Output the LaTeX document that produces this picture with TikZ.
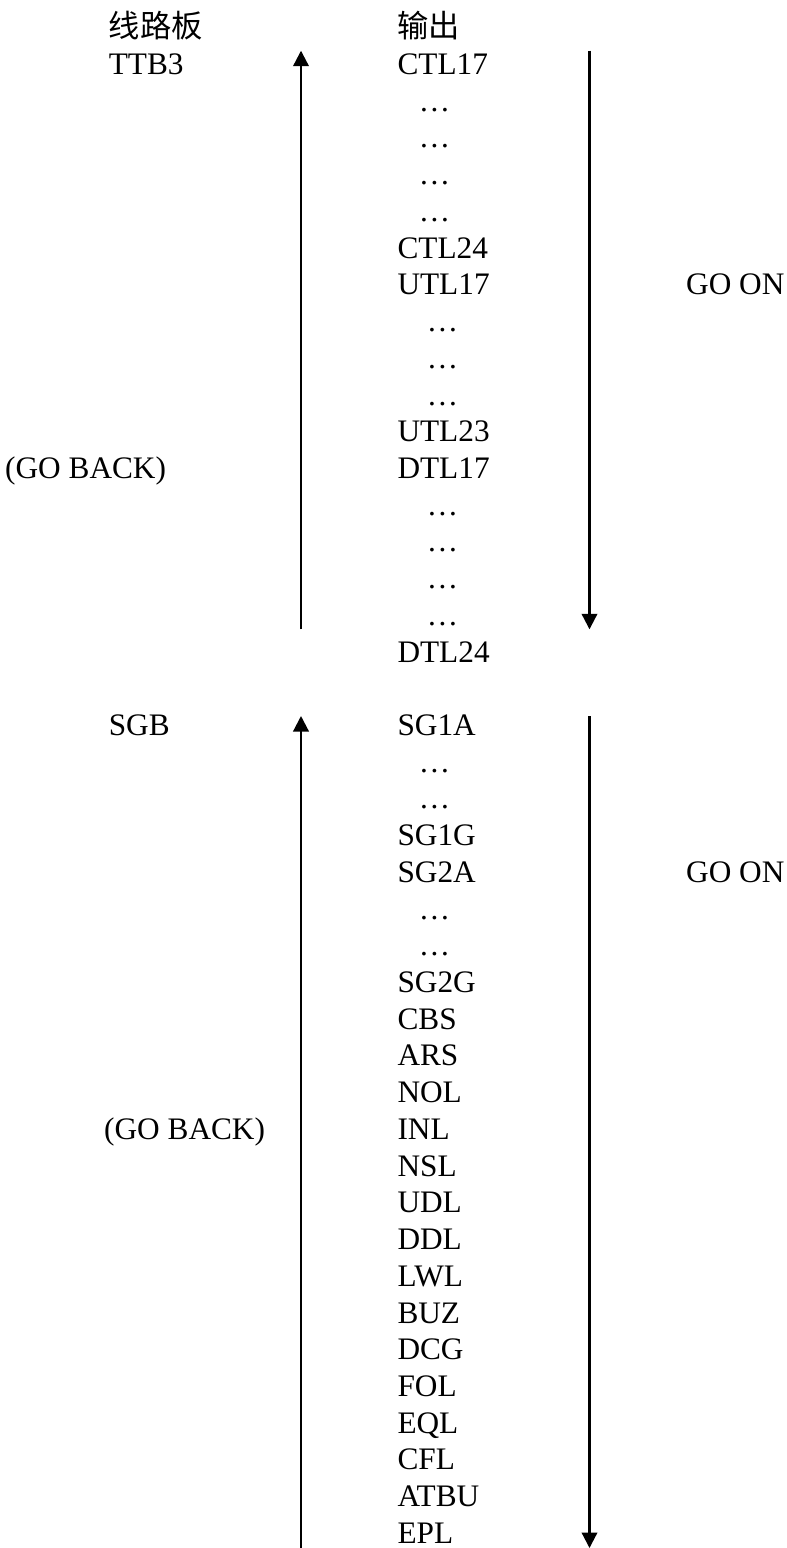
\documentclass[tikz,border=0pt]{standalone}
\usepackage{fontspec}
\setmainfont{Liberation Serif}
\newfontfamily\cjk{Noto Sans CJK SC}
\usetikzlibrary{arrows.meta}
\begin{document}
\begin{tikzpicture}[x=1pt,y=-1pt,
  lbl/.style={anchor=base west,inner sep=0pt,font=\fontsize{31.3}{36}\selectfont},
  dotlbl/.style={anchor=base,inner sep=0pt,font=\fontsize{31.3}{36}\selectfont},
  arr/.style={line width=2.2pt,-{Triangle[length=15.5pt,width=15.5pt]}}]
\useasboundingbox (0,0) rectangle (787,1548);
% headers
\node[lbl] (hleft) at (108.6,37.8) {\cjk 线路板};
\node[lbl] (hmid) at (397.3,37.8) {\cjk 输出};
% left column labels
\node[lbl] (ttb) at (108.6,37.8+36.72*1) {TTB3};
\node[lbl] (gb1) at (5,37.8+36.72*12) {(GO BACK)};
\node[lbl] (sgb) at (108.6,37.8+36.72*19) {SGB};
\node[lbl] (gb2) at (104,37.8+36.72*30) {(GO BACK)};
% right labels
\node[lbl] (go1) at (686,37.8+36.72*7) {GO ON};
\node[lbl] (go2) at (686,37.8+36.72*23) {GO ON};
% middle column
\foreach \n/\t in {1/CTL17,6/CTL24,7/UTL17,11/UTL23,12/DTL17,17/DTL24,
  19/SG1A,22/SG1G,23/SG2A,26/SG2G,27/CBS,28/ARS,29/NOL,30/INL,31/NSL,
  32/UDL,33/DDL,34/LWL,35/BUZ,36/DCG,37/FOL,38/EQL,39/CFL,40/ATBU,41/EPL}
  \node[lbl] (m\n) at (397.3,37.8+36.72*\n) {\t};
\foreach \n in {2,3,4,5,20,21,24,25}
  \node[dotlbl] (d\n) at (434.5,37.8+36.72*\n) {…};
\foreach \n in {8,9,10,13,14,15,16}
  \node[dotlbl] (d\n) at (442.5,37.8+36.72*\n) {…};
% arrows
\coordinate (ua1) at (301,629.3);
\coordinate (ua2) at (301,50.7);
\coordinate (da1) at (589.5,50.7);
\coordinate (da2) at (589.5,629.3);
\coordinate (ub1) at (301,1548);
\coordinate (ub2) at (301,716);
\coordinate (db1) at (589.5,716);
\coordinate (db2) at (589.5,1548);
\draw[arr] (ua1) -- (ua2);
\draw[arr] (da1) -- (da2);
\draw[arr] (ub1) -- (ub2);
\draw[arr] (db1) -- (db2);
\end{tikzpicture}
\end{document}
